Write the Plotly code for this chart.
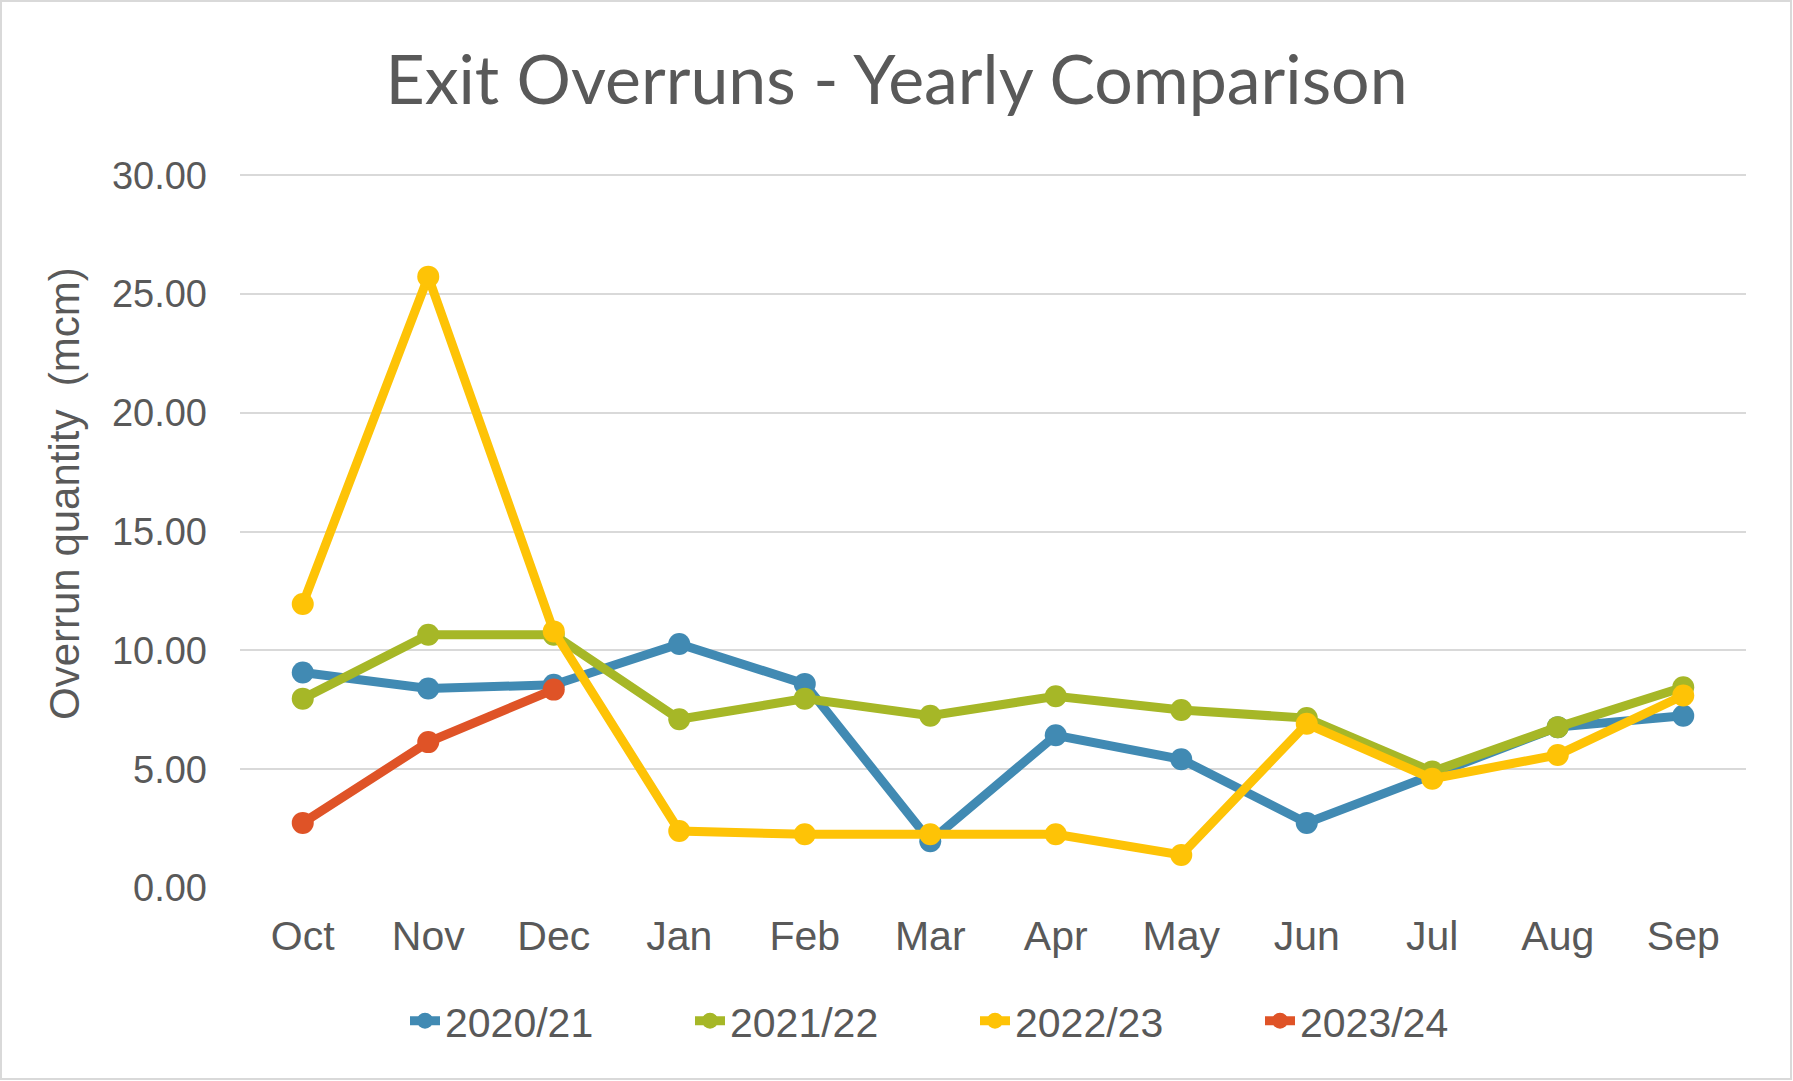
import plotly.graph_objects as go

months = ["Oct", "Nov", "Dec", "Jan", "Feb", "Mar", "Apr", "May", "Jun", "Jul", "Aug", "Sep"]
s2020 = [9.07, 8.40, 8.55, 10.27, 8.59, 1.97, 6.43, 5.42, 2.74, 4.80, 6.77, 7.25]
s2021 = [7.97, 10.66, 10.66, 7.10, 7.97, 7.25, 8.07, 7.49, 7.15, 4.90, 6.77, 8.45]
s2022 = [11.95, 25.73, 10.80, 2.40, 2.26, 2.26, 2.26, 1.39, 6.91, 4.60, 5.60, 8.10]
s2023 = [2.74, 6.14, 8.35]
names = ["2020/21", "2021/22", "2022/23", "2023/24"]
colors = ["#418AB3", "#A6B727", "#FEC306", "#DF5327"]

W, H = 1793, 1081
L, R, T, B = 240, 47, 174, 193

fig = go.Figure()
for name, vals, col in zip(names, [s2020, s2021, s2022, s2023], colors):
    fig.add_trace(go.Scatter(
        x=months[:len(vals)], y=vals, name=name, mode="lines+markers",
        line=dict(color=col, width=9),
        marker=dict(color=col, size=22),
    ))

pw = W - L - R
ph = H - T - B
fig.update_layout(
    width=W, height=H,
    margin=dict(l=L, r=R, t=T, b=B, autoexpand=False),
    paper_bgcolor="white", plot_bgcolor="white",
    title=dict(text="Exit Overruns - Yearly Comparison", x=0.5, xanchor="center",
               y=1 - 80 / H, yanchor="middle",
               font=dict(family="Lato", size=68, color="#595959")),
    font=dict(family="Liberation Sans, Arial", color="#595959"),
    xaxis=dict(type="category", categoryorder="array", categoryarray=months,
               range=[-0.5, 11.5], showgrid=False, showline=False, zeroline=False,
               tickfont=dict(size=41, color="#595959"), ticks="", ticklabelstandoff=20,
               automargin=False),
    yaxis=dict(range=[0, 30.05], tickvals=[0, 5, 10, 15, 20, 25, 30], tickformat=".2f",
               showgrid=True, gridcolor="#D9D9D9", gridwidth=2, zeroline=False,
               showline=False, automargin=False,
               tickfont=dict(size=38, color="#595959"), ticklabelstandoff=32),
    legend=dict(orientation="h", x=0.5 - 18 / pw, xanchor="center", y=1 - (1021 - T) / ph,
                yanchor="middle", font=dict(size=41, color="#595959"),
                entrywidth=240, entrywidthmode="pixels"),
    showlegend=True,
)
fig.add_annotation(text="Overrun quantity  (mcm)", textangle=-90, showarrow=False,
                   xref="paper", yref="paper", x=(64 - L) / pw, y=1 - (494 - T) / ph,
                   xanchor="center", yanchor="middle",
                   font=dict(size=42, color="#595959", family="Liberation Sans, Arial"))
fig.add_shape(type="rect", xref="paper", yref="paper",
              x0=(1 - L) / pw, x1=(W - 2 - L) / pw,
              y0=1 - (H - 2 - T) / ph, y1=1 + (T - 1) / ph,
              line=dict(color="#D9D9D9", width=2), fillcolor="rgba(0,0,0,0)", layer="below")
fig.write_html("out.html", config={"displayModeBar": False},
               post_script="document.body.style.margin='0';")
